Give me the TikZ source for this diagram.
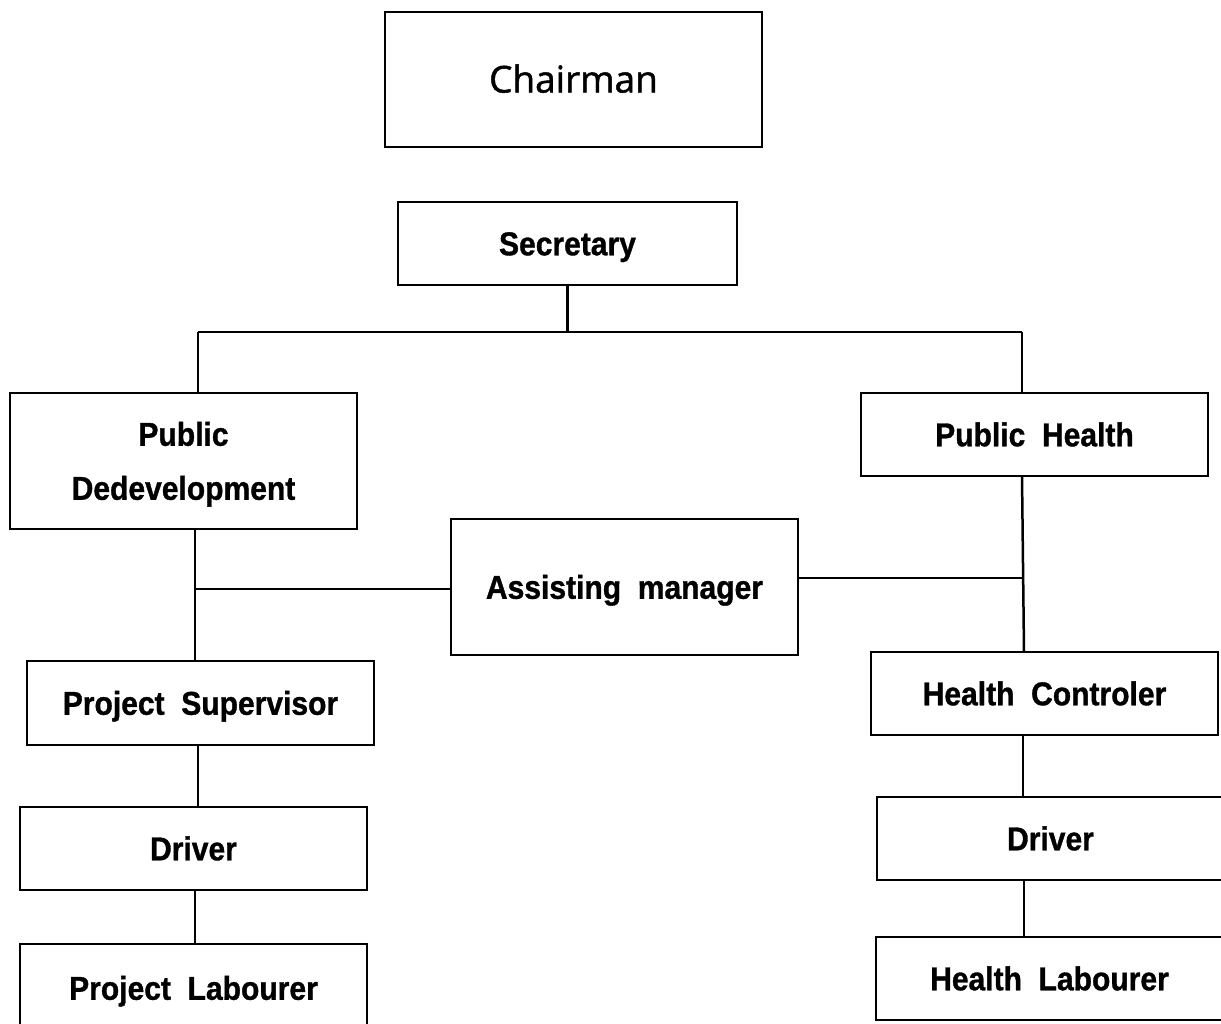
\documentclass[tikz,border=0pt]{standalone}
\usepackage{fontspec}
\setmainfont{Liberation Sans}
\newfontfamily\chairfont{Open Sans}[FakeBold=1.3]
\newfontfamily\boxfont{Liberation Sans Bold}[FakeStretch=0.91,FakeBold=1]
\begin{document}
\begin{tikzpicture}[x=1pt,y=-1pt,
  box/.style={draw, line width=2.5pt, inner sep=0pt, align=center,
    minimum width=347pt, minimum height=83pt,
    text height=23.5pt, text depth=0pt,
    font=\boxfont\fontsize{33}{54}\selectfont},
  conn/.style={line width=2.5pt}]
\useasboundingbox (0,0) rectangle (1221,1023);
\clip (0,0) rectangle (1221,1023);
\fill[white] (0,0) rectangle (1221,1023);
\node[box, minimum width=377pt, minimum height=135pt, text height=26pt, font=\chairfont\fontsize{37}{40}\selectfont] (chair) at (573.5,79.5) {Chairman};
\node[box, minimum width=339pt] (sec) at (567.5,243.5) {Secretary};
\node[box, minimum height=136pt, text height=77.5pt] (pd) at (183.5,461) {Public\\Dedevelopment};
\node[box] (ph) at (1034.5,434.5) {Public\ \ Health};
\node[box, minimum height=136pt] (am) at (624.5,587) {Assisting\ \ manager};
\node[box, minimum height=84pt] (ps) at (200.5,703) {Project\ \ Supervisor};
\node[box] (drl) at (193.5,848.5) {Driver};
\node[box, minimum height=88pt] (pl) at (193.5,988) {Project\ \ Labourer};
\node[box] (hc) at (1044.5,693.5) {Health\ \ Controler};
\node[box] (drr) at (1050.5,838.5) {Driver};
\node[box] (hl) at (1049.5,978.5) {Health\ \ Labourer};
% connectors
\coordinate (jl) at (198,332);
\coordinate (jr) at (1022,332);
\draw[conn] (sec.south) -- (sec.south |- jl);
\draw[conn] (jl) -- (jr);
\draw[conn] (jl) -- (jl |- pd.north);
\draw[conn] (jr) -- (jr |- ph.north);
\coordinate (pdb) at (195,529);
\draw[conn] (pdb) -- (pdb |- ps.north);
\coordinate (aml) at (451,589);
\draw[conn] (aml) -- (aml -| pdb);
\coordinate (phb) at (1022,476);
\coordinate (hct) at (1024,652);
\draw[conn] (phb) -- (hct);
\coordinate (amr) at (798,578);
\coordinate (amj) at (1022,578);
\draw[conn] (amr) -- (amj);
\coordinate (psb) at (198,745);
\draw[conn] (psb) -- (psb |- drl.north);
\coordinate (dlb) at (195,890);
\draw[conn] (dlb) -- (dlb |- pl.north);
\coordinate (hcb) at (1023,735);
\draw[conn] (hcb) -- (hcb |- drr.north);
\coordinate (drb) at (1024,880);
\draw[conn] (drb) -- (drb |- hl.north);
\end{tikzpicture}
\end{document}
